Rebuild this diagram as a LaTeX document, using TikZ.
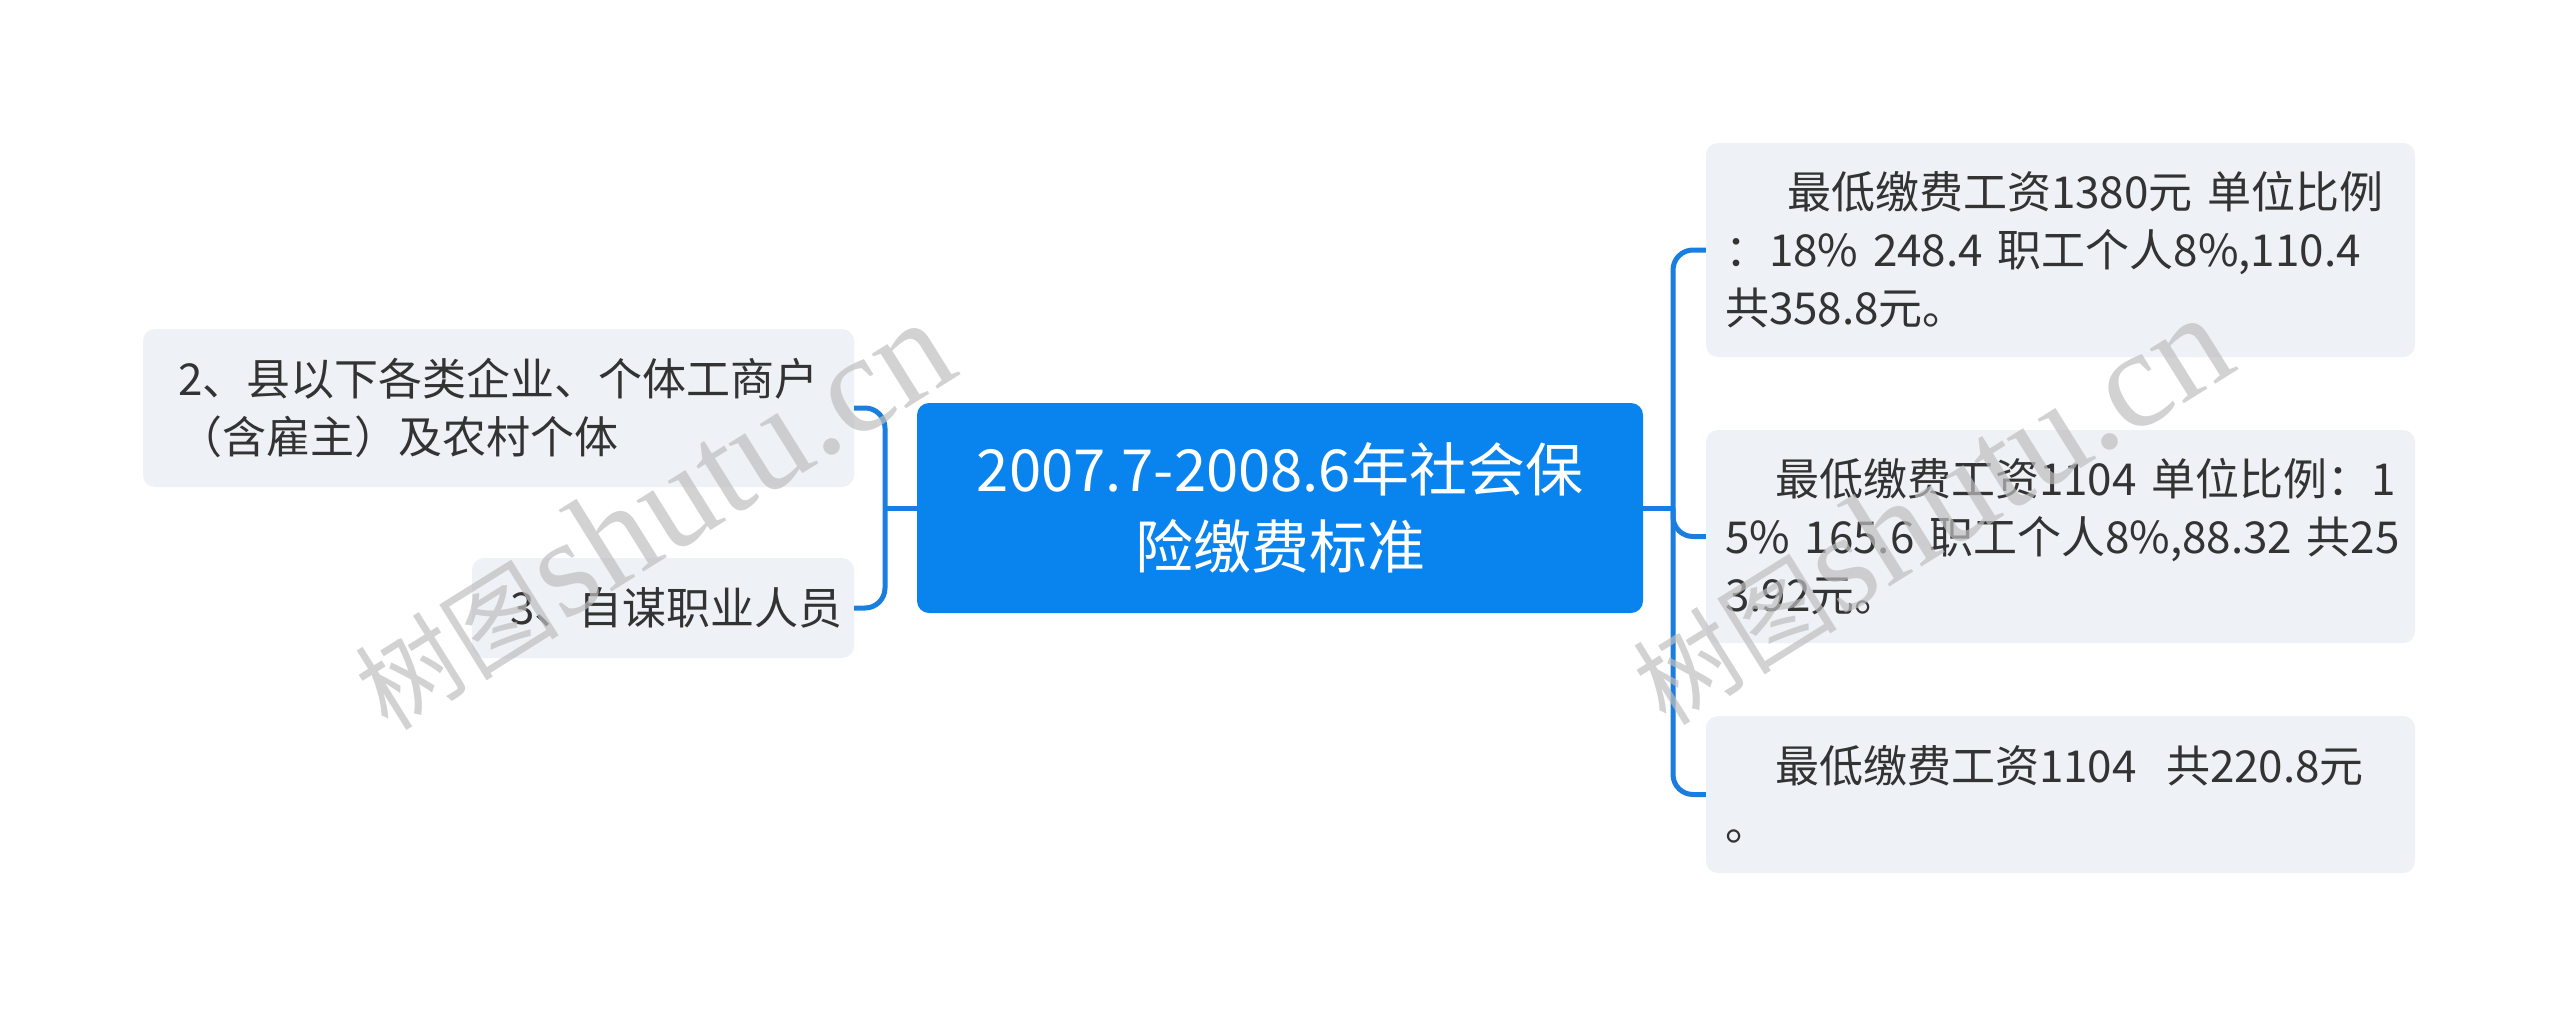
\documentclass[tikz,border=0pt]{standalone}
\usepackage{fontspec}
\setmainfont{Noto Sans CJK SC}
\newfontfamily\cjk{Noto Sans CJK SC}
\newfontfamily\wmlatin{Liberation Serif}
\definecolor{rootblue}{HTML}{0984EF}
\definecolor{leafgray}{HTML}{EEF1F5}
\definecolor{linkblue}{HTML}{1A7EE0}
\definecolor{textdark}{HTML}{333333}
\begin{document}
\begin{tikzpicture}[x=1pt,y=-1pt,
  root/.style={fill=rootblue, rounded corners=12pt, inner sep=0pt,
    minimum width=726pt, minimum height=210pt, text width=666pt, align=center,
    text=white, font=\cjk\fontsize{58}{77}\selectfont},
  leaf/.style={fill=leafgray, rounded corners=12pt, inner sep=0pt,
    text=textdark, font=\cjk\fontsize{44}{58}\selectfont, align=left},
  conn/.style={draw=linkblue, line width=5pt, rounded corners=20pt},
  wm/.style={rotate=32, text=black!25, opacity=0.7, inner sep=0pt}]
\fill[white] (0,0) rectangle (2560,1017);
\useasboundingbox (0,0) rectangle (2560,1017);

\node[root] (C) at (1280,508) {\mbox{2007.7-2008.6年社会保}\\\mbox{险缴费标准}};

\node[leaf, minimum width=711pt, minimum height=158pt, text width=641pt] (L1) at (498.5,408)
  {\mbox{2、县以下各类企业、个体工商户}\\\mbox{（含雇主）及农村个体}};
\node[leaf, minimum width=382pt, minimum height=100pt, text width=306pt] (L2) at (663,608)
  {\mbox{3、自谋职业人员}};

\node[leaf, minimum width=709pt, minimum height=214pt, text width=671pt] (R1) at (2060.5,250)
  {\mbox{\hspace{62pt}最低缴费工资1380元 单位比例}\\\mbox{：18\% 248.4 职工个人8\%,110.4}\\\mbox{共358.8元。}};
\node[leaf, minimum width=709pt, minimum height=213pt, text width=671pt] (R2) at (2060.5,536.5)
  {\mbox{\hspace{50pt}最低缴费工资1104 单位比例：1}\\\mbox{5\% 165.6 职工个人8\%,88.32 共25}\\\mbox{3.92元。}};
\node[leaf, minimum width=709pt, minimum height=157pt, text width=671pt] (R3) at (2060.5,794.5)
  {\mbox{\hspace{50pt}最低缴费工资1104\ \ 共220.8元}\\\mbox{。}};

\coordinate (lj) at (885,508);
\coordinate (rj) at (1673,508);
\draw[conn] (L1.east) -| (lj) |- (L2.east);
\draw[conn] (C.west) -- (lj);
\draw[conn] (R1.west) -| (rj) |- (R3.west);
\draw[conn] (rj) |- (R2.west);
\draw[conn] (C.east) -- (rj);

\node[wm] (wm1) at (652,515) {{\cjk\fontsize{102}{102}\selectfont 树图} {\wmlatin\fontsize{140}{140}\selectfont shutu.cn}};
\node[wm] (wm2) at (1930,510) {{\cjk\fontsize{102}{102}\selectfont 树图} {\wmlatin\fontsize{140}{140}\selectfont shutu.cn}};
\end{tikzpicture}
\end{document}
